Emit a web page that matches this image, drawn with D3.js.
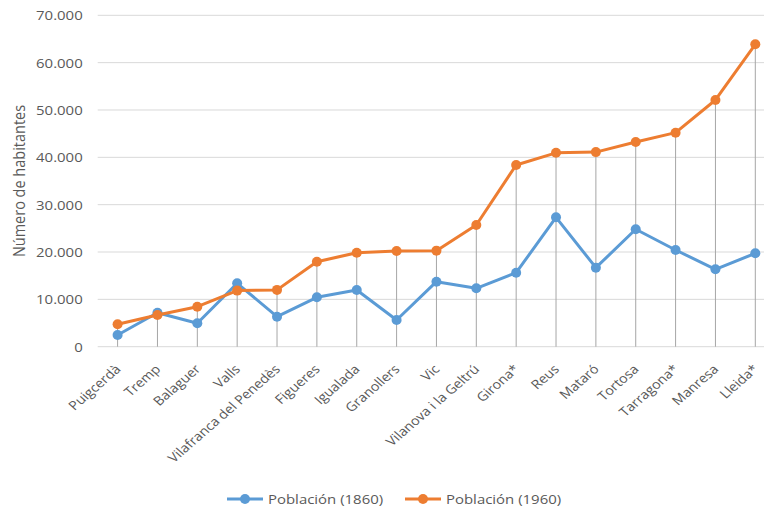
<!DOCTYPE html>
<html>
<head>
<meta charset="utf-8">
<script src="https://cdn.jsdelivr.net/npm/d3@7"></script>
<style>
  html, body { margin: 0; padding: 0; background: #fff; }
  svg { display: block; }
  text { font-family: "Open Sans", sans-serif; fill: #595959; }
</style>
</head>
<body>
<svg id="chart" width="764" height="510"></svg>
<script>
const categories = ["Puigcerdà", "Tremp", "Balaguer", "Valls", "Vilafranca del Penedès", "Figueres",
  "Igualada", "Granollers", "Vic", "Vilanova i la Geltrú", "Girona*", "Reus", "Mataró", "Tortosa",
  "Tarragona*", "Manresa", "Lleida*"];
const pop1860 = [2470, 7180, 4940, 13390, 6340, 10430, 11980, 5640, 13730, 12330, 15630, 27330, 16690, 24800, 20430, 16350, 19730];
const pop1960 = [4730, 6700, 8450, 11850, 12000, 17960, 19860, 20220, 20290, 25710, 38380, 40950, 41100, 43240, 45210, 52110, 63880];
const yTicks = [0, 10000, 20000, 30000, 40000, 50000, 60000, 70000];
const seriesNames = ["Población (1860)", "Población (1960)"];
const seriesColors = ["#5B9BD5", "#ED7D31"];

const SX = 1.15; // horizontal text stretch seen in the reference
const svg = d3.select("#chart");
const plotLeft = 97.7, plotRight = 764;
const x = d3.scalePoint().domain(categories).range([117.6, 755.3]);
const y = d3.scaleLinear().domain([0, 70000]).range([346.7, 15.3]);
const fmt = v => d3.format(",")(v).replace(/,/g, ".");

// gridlines
svg.append("g").selectAll("line").data(yTicks).join("line")
  .attr("x1", plotLeft).attr("x2", plotRight)
  .attr("y1", d => y(d)).attr("y2", d => y(d))
  .attr("stroke", "#D9D9D9").attr("stroke-width", 1);

// y axis labels (via axis generator, then restyled)
const yAxis = svg.append("g").attr("transform", `translate(${plotLeft},0)`)
  .call(d3.axisLeft(y).tickValues(yTicks).tickFormat(fmt).tickSize(0).tickPadding(0));
yAxis.select(".domain").remove();
yAxis.selectAll(".tick text")
  .attr("x", null).attr("dy", "0.35em")
  .attr("transform", `translate(-15,0) scale(${SX},1)`)
  .attr("text-anchor", "end")
  .attr("font-family", "Open Sans").attr("font-size", 13).attr("fill", "#595959");

// y title
svg.append("text").attr("transform", `translate(25,181) scale(${SX},1) rotate(-90)`)
  .attr("text-anchor", "middle").attr("font-size", 14.5).text("Número de habitantes");

// drop lines
svg.append("g").selectAll("line").data(categories).join("line")
  .attr("x1", d => x(d)).attr("x2", d => x(d))
  .attr("y1", (d, i) => y(Math.max(pop1860[i], pop1960[i])))
  .attr("y2", y(0))
  .attr("stroke", "#A6A6A6").attr("stroke-width", 1);

// x labels
svg.append("g").selectAll("text").data(categories).join("text")
  .attr("transform", d => `translate(${x(d) + 4},370) scale(${SX},1) rotate(-45)`)
  .attr("text-anchor", "end").attr("font-size", 12.5).text(d => d);

// series
[pop1860, pop1960].forEach((vals, s) => {
  const line = d3.line().x((d, i) => x(categories[i])).y(d => y(d));
  const g = svg.append("g");
  g.append("path").datum(vals).attr("d", line).attr("fill", "none")
    .attr("stroke", seriesColors[s]).attr("stroke-width", 3).attr("stroke-linejoin", "round");
  g.selectAll("circle").data(vals).join("circle")
    .attr("cx", (d, i) => x(categories[i])).attr("cy", d => y(d)).attr("r", 5)
    .attr("fill", seriesColors[s]);
});

// legend
const legX = [227, 405];
seriesNames.forEach((name, s) => {
  const g = svg.append("g").attr("transform", `translate(${legX[s]},499)`);
  g.append("line").attr("x1", 0).attr("x2", 36).attr("stroke", seriesColors[s]).attr("stroke-width", 3);
  g.append("circle").attr("cx", 18).attr("r", 5).attr("fill", seriesColors[s]);
  g.append("text").attr("transform", `translate(41,0) scale(${SX},1)`)
    .attr("dy", "0.35em").attr("font-size", 13).text(name);
});
</script>
</body>
</html>
